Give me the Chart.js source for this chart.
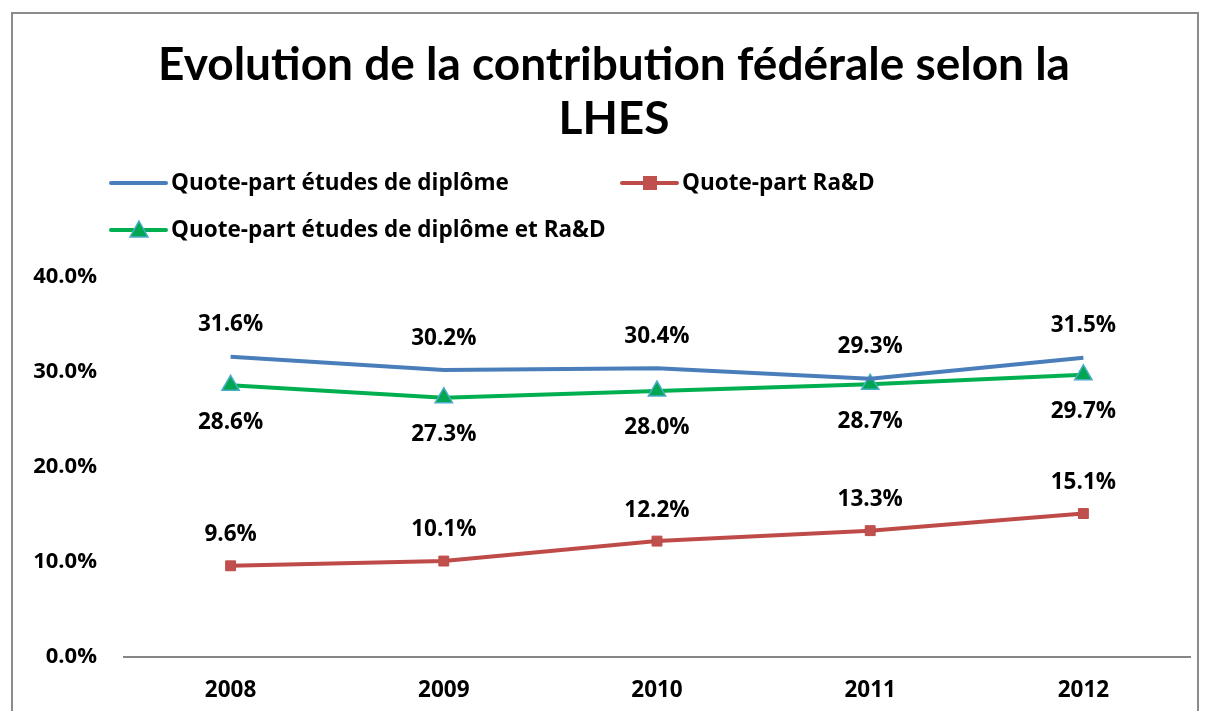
<!DOCTYPE html>
<html lang="fr">
<head>
  <meta charset="UTF-8" />
  <title>Evolution de la contribution fédérale selon la LHES</title>
  <script src="https://cdn.jsdelivr.net/npm/chart.js"></script>
  <style>
    body { margin: 0; background: #fff; }
    #wrap { position: relative; width: 1206px; height: 711px; }
    #frame {
      position: absolute; left: 11px; top: 12px; width: 1188px; height: 710px;
      border: 2px solid #8c8c8c; box-sizing: border-box;
    }
    canvas { position: absolute; left: 0; top: 0; }
  </style>
</head>
<body>
  <div id="wrap">
    <div id="frame"></div>
    <canvas id="chart" width="1206" height="711"></canvas>
  </div>

  <script>
    const years = ['2008', '2009', '2010', '2011', '2012'];
    const diplome = [31.6, 30.2, 30.4, 29.3, 31.5];
    const rad = [9.6, 10.1, 12.2, 13.3, 15.1];
    const diplomeRad = [28.6, 27.3, 28.0, 28.7, 29.7];
    const yTicks = [0, 10, 20, 30, 40];

    const titleLines = ['Evolution de la contribution fédérale selon la', 'LHES'];
    const FONT = '"Open Sans", "Noto Sans", sans-serif';
    const TITLE_FONT = 'Lato, "Noto Sans", sans-serif';

    // title, legend and value labels
    const decor = {
      id: 'decor',
      afterDraw(chart) {
        const ctx = chart.ctx;
        ctx.save();
        ctx.fillStyle = '#000';
        ctx.textAlign = 'center';
        ctx.textBaseline = 'middle';
        ctx.font = 'bold 46px ' + TITLE_FONT;
        ctx.fillText(titleLines[0], 614, 65);
        ctx.fillText(titleLines[1], 614, 119);

        // legend
        ctx.font = 'bold 22.5px ' + FONT;
        ctx.textAlign = 'left';
        const items = [
          { i: 0, x: 111, y: 183 },
          { i: 1, x: 622, y: 183 },
          { i: 2, x: 111, y: 230 }
        ];
        items.forEach(it => {
          const ds = chart.data.datasets[it.i];
          ctx.strokeStyle = ds.borderColor;
          ctx.lineWidth = 4;
          ctx.lineCap = 'round';
          ctx.beginPath();
          ctx.moveTo(it.x, it.y);
          ctx.lineTo(it.x + 55, it.y);
          ctx.stroke();
          const mx = it.x + 28;
          if (ds.pointStyle === 'rect') {
            ctx.fillStyle = ds.pointBackgroundColor;
            ctx.fillRect(mx - 7, it.y - 7, 14, 14);
          } else if (ds.pointStyle === 'triangle') {
            ctx.fillStyle = ds.pointBackgroundColor;
            ctx.strokeStyle = ds.pointBorderColor;
            ctx.lineWidth = 1.5;
            ctx.beginPath();
            ctx.moveTo(mx, it.y - 9);
            ctx.lineTo(mx + 9, it.y + 7);
            ctx.lineTo(mx - 9, it.y + 7);
            ctx.closePath();
            ctx.fill();
            ctx.stroke();
          }
          ctx.fillStyle = '#000';
          ctx.fillText(ds.label, it.x + 60, it.y + 1);
        });

        // value labels
        ctx.textAlign = 'center';
        ctx.font = 'bold 22.5px ' + FONT;
        const offsets = [-32, -31, 37];
        chart.data.datasets.forEach((ds, di) => {
          const meta = chart.getDatasetMeta(di);
          meta.data.forEach((pt, j) => {
            ctx.fillText(ds.data[j].toFixed(1) + '%', pt.x, pt.y + offsets[di]);
          });
        });
        ctx.restore();
      }
    };

    new Chart(document.getElementById('chart'), {
      type: 'line',
      data: {
        labels: years,
        datasets: [
          {
            label: 'Quote-part études de diplôme',
            data: diplome,
            borderColor: '#4a7ebb',
            borderWidth: 4,
            pointRadius: 0,
            pointStyle: false,
            tension: 0
          },
          {
            label: 'Quote-part Ra&D',
            data: rad,
            borderColor: '#be4b48',
            borderWidth: 4,
            pointStyle: 'rect',
            pointRadius: 7,
            pointBackgroundColor: '#c0504d',
            pointBorderColor: '#be4b48',
            pointBorderWidth: 1,
            tension: 0
          },
          {
            label: 'Quote-part études de diplôme et Ra&D',
            data: diplomeRad,
            borderColor: '#00b050',
            borderWidth: 4,
            pointStyle: 'triangle',
            pointRadius: 10,
            pointBackgroundColor: '#00a651',
            pointBorderColor: '#4bacc6',
            pointBorderWidth: 1.5,
            tension: 0
          }
        ]
      },
      options: {
        responsive: false,
        animation: false,
        layout: { padding: { top: 277, right: 16, bottom: 0, left: 0 } },
        plugins: {
          legend: { display: false },
          title: { display: false },
          tooltip: { enabled: false }
        },
        scales: {
          x: {
            offset: true,
            grid: { display: false, drawTicks: false },
            border: { color: '#868686', width: 2 },
            ticks: {
              color: '#000',
              padding: 20,
              font: { family: FONT, size: 22.5, weight: 'bold' }
            },
            afterFit: s => { s.height = 54; }
          },
          y: {
            min: 0,
            max: 40,
            afterBuildTicks: s => { s.ticks = yTicks.map(v => ({ value: v })); },
            grid: { display: false, drawTicks: false },
            border: { display: false },
            ticks: {
              color: '#000',
              padding: 27,
              font: { family: FONT, size: 22, weight: 'bold' },
              callback: v => v.toFixed(1) + '%'
            },
            afterFit: s => { s.width = 124; }
          }
        }
      },
      plugins: [decor]
    });
  </script>
</body>
</html>
